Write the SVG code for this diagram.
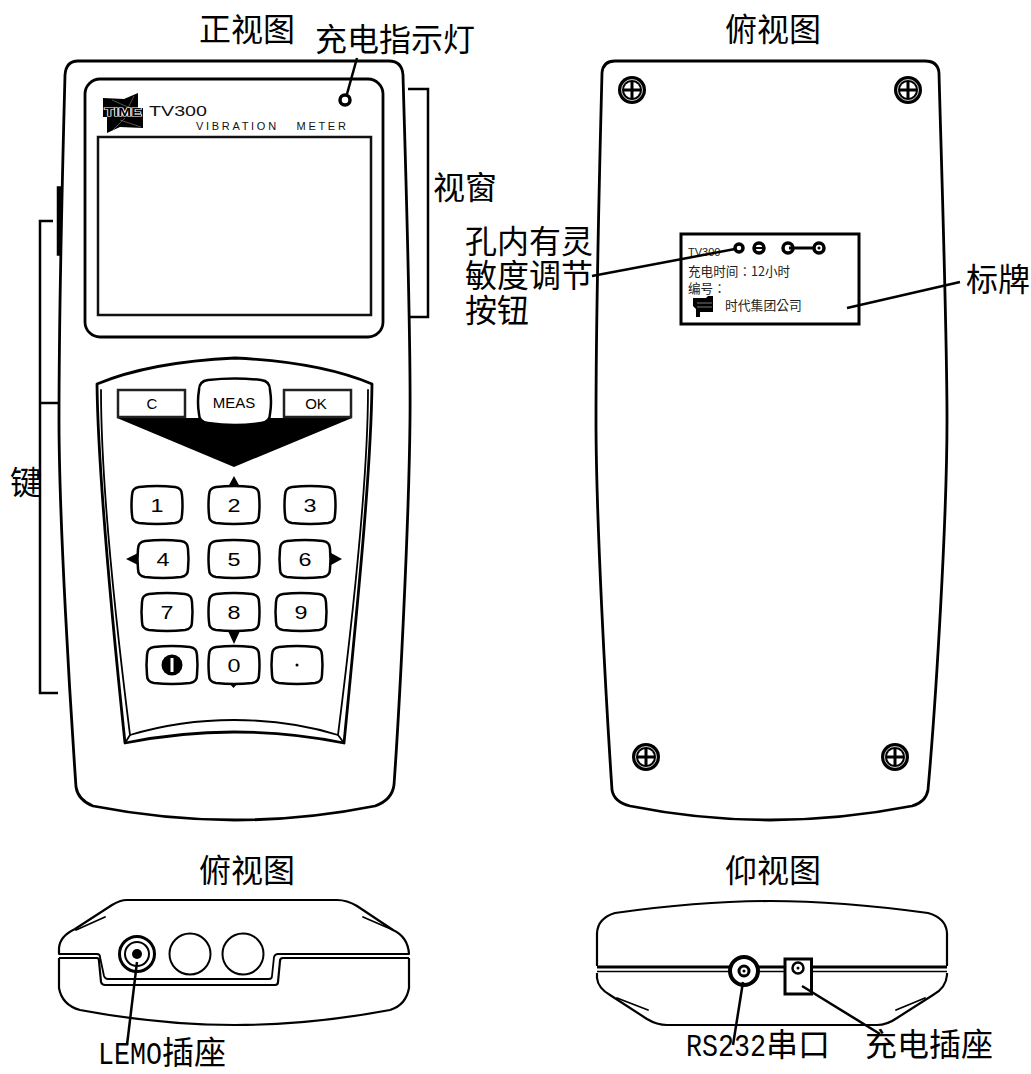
<svg xmlns="http://www.w3.org/2000/svg" width="1031" height="1074" viewBox="0 0 1031 1074">
<style>
.l{fill:none;stroke:#000;stroke-width:1.800;stroke-linejoin:round;stroke-linecap:round}
.t{fill:none;stroke:#000;stroke-width:2.800;stroke-linejoin:round}
.b{fill:none;stroke:#000;stroke-width:2.200;stroke-linejoin:round}
.k{fill:#fff;stroke:#000;stroke-width:2.500}
.n{font-family:"Liberation Sans",sans-serif;font-size:19px;text-anchor:middle;fill:#000}
.m{font-family:"Liberation Sans",sans-serif;font-size:15px;text-anchor:middle;fill:#000}
.c{font-family:"Noto Sans CJK SC","Liberation Mono",sans-serif;font-size:32px;fill:#000}
.a{font-family:"Liberation Mono",monospace}
.s{font-family:"Noto Sans CJK TC","Liberation Sans",sans-serif;font-size:12.600px;fill:#222}
</style>
<defs>
<path id="key" d="M-18,-18 Q0,-20 18,-18 Q25,-17 25,-10 Q26,0 25,10 Q25,17 18,18 Q0,20 -18,18 Q-25,17 -25,10 Q-26,0 -25,-10 Q-25,-17 -18,-18Z"/>
<g id="screw"><circle r="14" fill="#000"/><circle r="10.500" fill="none" stroke="#fff" stroke-width=".8"/><circle r="8" fill="#fff"/><path d="M-8,0H8M0,-8V8" stroke="#000" stroke-width="3"/></g>
</defs>
<g id="front-view">
<path class="t" d="M78,61 H389 Q402,61 403,75 C405,150 411,330 410,420 C409,520 400,700 394,785 Q392,800 375,806 Q305,820 235,820 Q165,820 93,806 Q78,800 76,787 C70,700 59,520 59,420 C59,330 63,150 65,75 Q66,61 78,61Z"/>
<path d="M61,187 L57.500,187 L57.500,255 L60,255Z" fill="#000" stroke="#000" stroke-width="1.500"/>
<rect class="t" x="85" y="79" width="298" height="258" rx="15"/>
<rect x="98" y="137" width="273" height="178" fill="none" stroke="#111" stroke-width="2.500"/>
<circle cx="345" cy="100" r="5" fill="#fff" stroke="#000" stroke-width="3.500"/>
<path d="M103,98 L124,99 L138,93 L138,108 H143 V128 L120,127 L107,133 L107,117 H103Z" fill="#000"/>
<path d="M112,100 L130,108 M134,96 L128,108 M112,131 L125,118 M120,120 L141,127" stroke="#888" stroke-width=".6"/>
<text x="123" y="116" font-family="Liberation Sans,sans-serif" font-size="10" font-weight="700" text-anchor="middle" textLength="37" lengthAdjust="spacingAndGlyphs" fill="#000" stroke="#fff" stroke-width="1.200" paint-order="stroke">TIME</text>
<text x="149" y="116" font-family="Liberation Sans,sans-serif" font-size="15" textLength="58" lengthAdjust="spacingAndGlyphs" fill="#111">TV300</text>
<text x="196" y="130" font-family="Liberation Sans,sans-serif" font-size="11" letter-spacing="2.700" word-spacing="12" fill="#111">VIBRATION METER</text>
</g>
<g id="keypad">
<path class="t" d="M97,384 Q150,362 235,358 Q320,362 372,384 C371,470 358,600 344,743 Q290,732 234,732 Q180,732 125,743 C110,600 98,470 97,384Z" stroke-width="2.500"/>
<path class="l" d="M101,390 C101,470 113,600 130,735 Q180,720 234,720 Q290,720 338,735 C355,600 368,470 368,390" />
<path class="l" d="M125,743 L130,735 M344,743 L338,735"/>
<path d="M117,418 H352 L234,467Z" fill="#000"/>
<rect x="118" y="390" width="67" height="27" fill="#fff" stroke="#222" stroke-width="2.500"/>
<rect x="284" y="390" width="67" height="27" fill="#fff" stroke="#222" stroke-width="2.500"/>
<path class="k" d="M208,380 Q235,377 261,380 Q270,381 270,390 Q272,402 270,414 Q270,422 261,423 Q235,427 208,423 Q199,422 199,414 Q197,402 199,390 Q199,381 208,380Z"/>
<text class="m" x="152" y="409">C</text>
<text class="m" x="234" y="408">MEAS</text>
<text class="m" x="316" y="409">OK</text>
<path d="M234,476 L240,487 H228Z M126,559 L138,553 V565Z M342,559 L331,553 V565Z M234,644 L228,631 H240Z M229,683 L233.500,688 L238,683Z" fill="#000"/>
<use href="#key" class="k" x="157" y="505"/><text class="n" x="157" y="512" textLength="13" lengthAdjust="spacingAndGlyphs">1</text>
<use href="#key" class="k" x="234" y="505"/><text class="n" x="234" y="512" textLength="13" lengthAdjust="spacingAndGlyphs">2</text>
<use href="#key" class="k" x="310" y="505"/><text class="n" x="310" y="512" textLength="13" lengthAdjust="spacingAndGlyphs">3</text>
<use href="#key" class="k" x="163" y="559"/><text class="n" x="163" y="566" textLength="13" lengthAdjust="spacingAndGlyphs">4</text>
<use href="#key" class="k" x="234" y="559"/><text class="n" x="234" y="566" textLength="13" lengthAdjust="spacingAndGlyphs">5</text>
<use href="#key" class="k" x="305" y="559"/><text class="n" x="305" y="566" textLength="13" lengthAdjust="spacingAndGlyphs">6</text>
<use href="#key" class="k" x="167" y="612"/><text class="n" x="167" y="619" textLength="13" lengthAdjust="spacingAndGlyphs">7</text>
<use href="#key" class="k" x="234" y="612"/><text class="n" x="234" y="619" textLength="13" lengthAdjust="spacingAndGlyphs">8</text>
<use href="#key" class="k" x="301" y="612"/><text class="n" x="301" y="619" textLength="13" lengthAdjust="spacingAndGlyphs">9</text>
<use href="#key" class="k" x="172" y="665"/><circle cx="172" cy="665" r="10.500" fill="#000"/><path d="M172,658V672" stroke="#fff" stroke-width="3"/>
<use href="#key" class="k" x="234" y="665"/><text class="n" x="234" y="672" textLength="13" lengthAdjust="spacingAndGlyphs">0</text>
<use href="#key" class="k" x="297" y="665"/><circle cx="297" cy="665" r="1.500" fill="#000"/>
</g>
<g id="top-view-back">
<path class="t" d="M615,61 H925 Q938,61 939,73 C941,150 947,330 947,420 C947,520 936,700 928,790 Q926,802 912,806 Q840,820 770,820 Q700,820 630,806 Q614,802 612,790 C606,700 596,520 596,420 C596,330 600,150 602,73 Q603,61 615,61Z"/>
<use href="#screw" x="632" y="90"/><use href="#screw" x="908" y="90"/><use href="#screw" x="646" y="757"/><use href="#screw" x="895" y="757"/>
</g>
<g id="nameplate">
<rect x="681" y="234" width="178" height="90" fill="none" stroke="#000" stroke-width="3"/>
<text class="s" x="688" y="256" style="font-family:'Liberation Sans',sans-serif;font-size:11px">TV300</text>
<text class="s" x="688" y="276">充电时间：12小时<tspan x="688" y="293">编号：</tspan></text>
<text class="s" x="725" y="310" style="font-size:12.800px">时代集团公司</text>
<path d="M693,298 L706,298 L708,296 H713 V312 H700 V317 H696 V309 L693,306Z" fill="#000"/>
<path d="M697,303 H712 M697,307 H712" stroke="#999" stroke-width=".8"/>
<circle cx="739" cy="248" r="4" fill="#fff" stroke="#000" stroke-width="3.500"/>
<circle cx="759" cy="248" r="5" fill="#fff" stroke="#000" stroke-width="3.500"/><path d="M755,248H763" stroke="#000" stroke-width="2"/>
<circle cx="788" cy="248" r="5" fill="#fff" stroke="#000" stroke-width="3.500"/>
<circle cx="819" cy="248" r="5" fill="#fff" stroke="#000" stroke-width="3.500"/><circle cx="819" cy="248" r="1.500" fill="#000"/>
<path d="M789,248H814" stroke="#000" stroke-width="3"/>
</g>
<g id="top-end">
<path class="b" d="M59,954 V948 Q60,936 75,929 L112,905 Q120,900 127,900 H337 Q347,900 357,906 L393,930 Q408,937 409,954"/>
<path class="l" d="M76,930 L105,917 M363,917 L393,930"/>
<path class="l" d="M59,954 H97 Q100,954 100,957 L104,976 Q105,979 108,979 H269 Q272,979 272,976 L274,957 Q275,954 278,954 H409"/>
<path class="b" d="M59,958 H97 Q99,958 99,961 L101,982 Q102,985 105,985 H275 Q278,985 278,982 L280,961 Q280,958 283,958 H409"/>
<path class="b" d="M59,958 V988 Q62,1005 80,1010 Q160,1025 235,1025 Q310,1025 390,1010 Q406,1005 409,988 V958"/>
<circle cx="137" cy="954" r="17.500" fill="none" stroke="#000" stroke-width="3"/><circle cx="137" cy="954" r="12" fill="none" stroke="#000" stroke-width="2"/><circle cx="137" cy="954" r="5" fill="#000"/>
<circle cx="190" cy="954" r="20.500" fill="none" stroke="#000" stroke-width="2"/>
<circle cx="243" cy="954" r="20.500" fill="none" stroke="#000" stroke-width="2"/>
</g>
<g id="bottom-end">
<path class="b" d="M597,966 V933 Q598,918 615,913 Q700,901 770,901 Q840,901 928,913 Q946,918 947,933 V966"/>
<path class="b" d="M597,973 V978 Q598,988 610,995 L647,1019 Q657,1025 667,1025 H877 Q887,1025 897,1018 L933,995 Q946,988 947,975 V973"/>
<path d="M597,967 H947" stroke="#000" stroke-width="3"/>
<path d="M597,971.500 H947" stroke="#000" stroke-width="1.500"/>
<path class="l" d="M617,998 L648,1010 M896,1010 L925,998"/>
<circle cx="744" cy="971" r="14" fill="#fff" stroke="#000" stroke-width="4"/><circle cx="744" cy="971" r="5" fill="#fff" stroke="#000" stroke-width="3"/><circle cx="744" cy="971" r="1.500" fill="#000"/>
<rect x="785" y="959" width="26.500" height="35" fill="#fff" stroke="#000" stroke-width="3"/>
<circle cx="798" cy="968" r="5.500" fill="#fff" stroke="#000" stroke-width="2.500"/><circle cx="798" cy="968" r="1.500" fill="#000"/>
</g>
<g id="connectors" fill="none" stroke="#000" stroke-width="2.500">
<path d="M357,58 L347,94"/>
<path d="M408,89 H428 V317 H408"/>
<path d="M53,221 H40 V693 H58 M40,403 H58"/>
<path d="M592,276 L735,249"/>
<path d="M847,308 L960,282"/>
<path d="M137,962 L127,1045"/>
<path d="M743,982 L733,1045"/>
<path d="M802,986 L880,1034"/>
</g>
<g id="labels">
<text class="c" x="199" y="41">正视图</text>
<text class="c" x="315" y="51">充电指示灯</text>
<text class="c" x="725" y="41">俯视图</text>
<text class="c" x="433" y="199">视窗</text>
<text class="c" x="465" y="253">孔内有灵<tspan x="465" y="287">敏度调节</tspan><tspan x="465" y="322">按钮</tspan></text>
<text class="c" x="966" y="291">标牌</text>
<text class="c" x="10" y="494">键</text>
<text class="c" x="199" y="882">俯视图</text>
<text class="c" x="725" y="882">仰视图</text>
<text class="c" x="98" y="1064"><tspan class="a" textLength="64" lengthAdjust="spacingAndGlyphs">LEMO</tspan>插座</text>
<text class="c" x="686" y="1056"><tspan class="a" textLength="80" lengthAdjust="spacingAndGlyphs">RS232</tspan>串口</text>
<text class="c" x="865" y="1056">充电插座</text>
</g>
</svg>
